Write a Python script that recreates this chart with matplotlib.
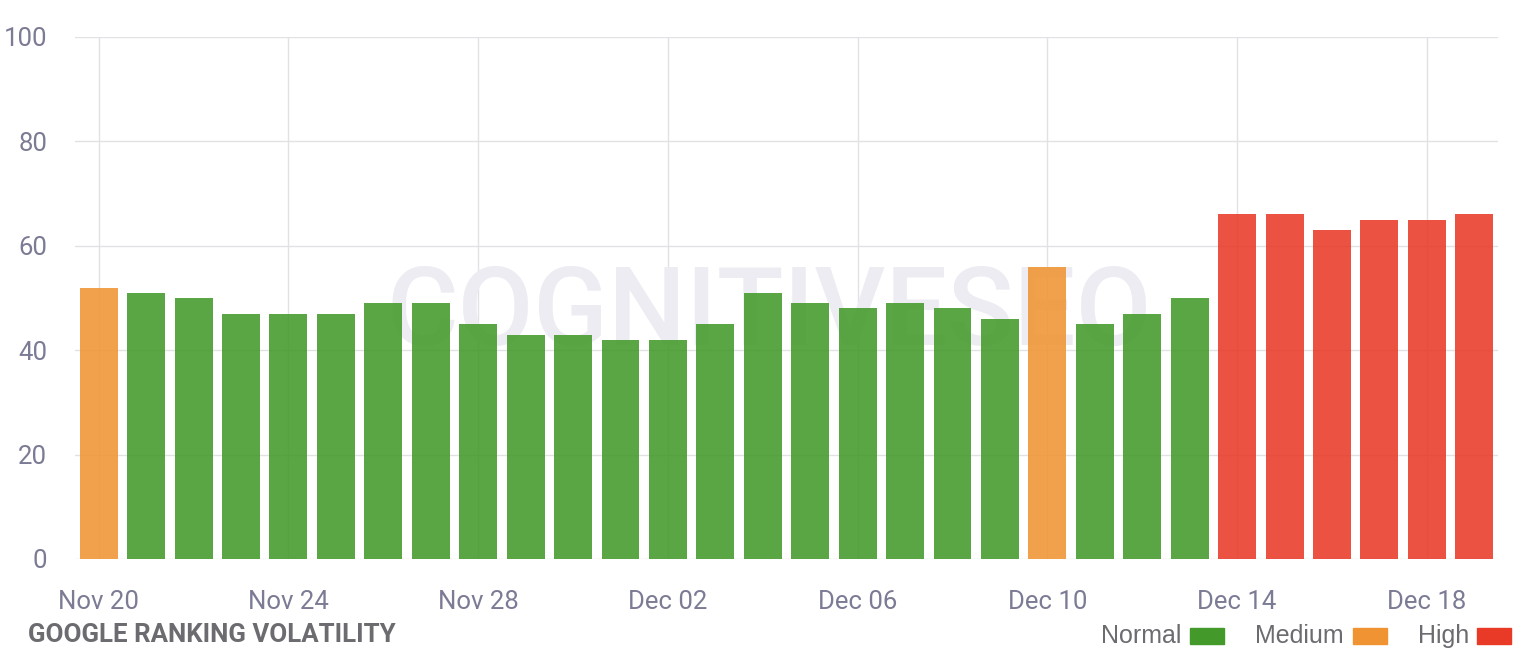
import matplotlib
matplotlib.use("Agg")
import matplotlib.pyplot as plt
import numpy as np
import pandas as pd
from matplotlib.patches import Rectangle

#%% Data
days = pd.date_range("2023-11-20", "2023-12-19", freq="D")
volatility = [52, 51, 50, 47, 47, 47, 49, 49, 45, 43,
              43, 42, 42, 45, 51, 49, 48, 49, 48, 46,
              56, 45, 47, 50, 66, 66, 63, 65, 65, 66]
level = ["Medium"] + ["Normal"] * 19 + ["Medium"] + ["Normal"] * 3 + ["High"] * 6
legend_labels = ["Normal", "Medium", "High"]
colors = {"Normal": "#43992a", "Medium": "#f09433", "High": "#e93a27"}
tick_every = 4
yticks = [0, 20, 40, 60, 80, 100]

label_color = "#7b7b95"
text_color = "#6b6b70"

#%% Plot
fig = plt.figure(figsize=(15.38, 6.70), dpi=100)
ax = fig.add_axes([75 / 1538, 111 / 670, 1423 / 1538, 522 / 670])

x = np.arange(len(volatility))
ax.bar(x, volatility, width=0.8, color=[colors[l] for l in level], alpha=0.88,
       zorder=3)

ax.text(0.488, 0.467, "COGNITIVESEO", transform=ax.transAxes, ha="center",
        va="center", fontsize=79, family="Roboto", weight="medium",
        color="#ececf2", zorder=1)

ax.set_xlim(-0.5, len(volatility) - 0.5)
ax.set_ylim(0, 100)
ticks = x[::tick_every]
ax.set_xticks(ticks)
ax.set_xticklabels([d.strftime("%b %d") for d in days[::tick_every]])
ax.set_yticks(yticks)
ax.grid(True, color="#e2e2e6", linewidth=1, zorder=0)
ax.set_axisbelow(True)
for s in ax.spines.values():
    s.set_visible(False)
ax.tick_params(length=0, labelsize=18.5, labelcolor=label_color)
ax.tick_params(axis="y", pad=20)
ax.tick_params(axis="x", pad=22)
for t in ax.get_xticklabels() + ax.get_yticklabels():
    t.set_family("Roboto")

fig.text(28 / 1538, 1 - 635 / 670, "GOOGLE RANKING VOLATILITY", family="Roboto",
         weight="bold", fontsize=18.6, color=text_color, va="center", ha="left")

# legend
text_x = [1101, 1255, 1418]
box_x = [1190, 1353, 1477]
for lab, tx, bx in zip(legend_labels, text_x, box_x):
    fig.text(tx / 1538, 1 - 636 / 670, lab, family="Liberation Sans",
             fontsize=18, color=text_color, va="center", ha="left")
    fig.patches.append(Rectangle((bx / 1538, 1 - 644 / 670), 34 / 1538, 16 / 670,
                                 transform=fig.transFigure, color=colors[lab]))

fig.savefig("out.png", dpi=100)
